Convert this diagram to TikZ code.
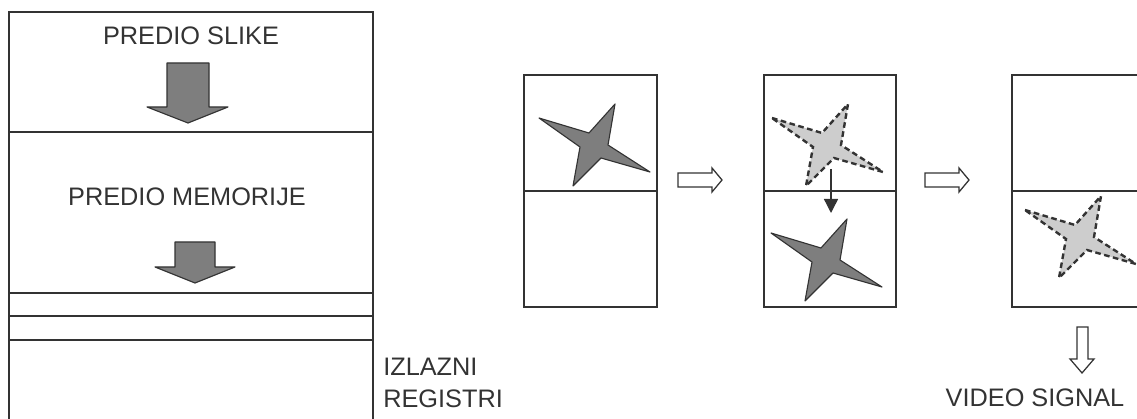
\documentclass[tikz,border=0pt]{standalone}
\usepackage{fontspec}
\setmainfont{Liberation Sans}
\usetikzlibrary{arrows.meta}

\definecolor{linegray}{HTML}{333333}
\definecolor{darkfill}{HTML}{7E7E7E}
\definecolor{lightfill}{HTML}{CDCDCD}

% four-pointed star, as drawn in the first frame
\newcommand{\starpath}{(539,118) -- (589,133) -- (615,104) -- (608,145) -- (650,172) -- (601,158) -- (573,186) -- (580,147) -- cycle}

\begin{document}
\begin{tikzpicture}[x=0.025cm, y=-0.025cm,
    frame/.style={draw=linegray, line width=1.4pt},
    bigarrow/.style={draw=linegray, line width=0.8pt, fill=darkfill, line join=round},
    hollow/.style={draw=linegray, line width=0.9pt, fill=white},
    fullstar/.style={draw=linegray, line width=0.8pt, fill=darkfill, line join=round},
    ghoststar/.style={draw=linegray, line width=1.7pt, fill=lightfill, dash pattern=on 4pt off 2.5pt},
    lbl/.style={text=linegray, font=\fontsize{18}{22.4}\selectfont, inner sep=0pt}]
            \clip (0,0) rectangle (1137,419);

            % Left column: image area, memory area and output registers
            \draw[frame] (9,430) -- (9,12) -- (373,12) -- (373,430);
            \draw[frame] (9,132) -- (373,132);
            \draw[frame] (9,293) -- (373,293);
            \draw[frame] (9,316) -- (373,316);
            \draw[frame] (9,340) -- (373,340);

            \node[lbl] (slike) at (191,36) {PREDIO SLIKE};
            \node[lbl] (memorija) at (187,197) {PREDIO MEMORIJE};
            \node[lbl, anchor=west, align=left] (registri) at (383,383) {IZLAZNI\\REGISTRI};

            % Transfer arrows
            \draw[bigarrow] (167,63) -- (209,63) -- (209,107) -- (228,107) -- (188,123) -- (147,107) -- (167,107) -- cycle;
            \draw[bigarrow] (175,242) -- (215,242) -- (215,267) -- (235,267) -- (195,283) -- (155,267) -- (175,267) -- cycle;

            % Frame 1
            \draw[frame] (524,75) rectangle (657,307);
            \draw[frame] (524,191) -- (657,191);
            \draw[fullstar] \starpath;

            % Frame 2
            \draw[frame] (764,75) rectangle (896,307);
            \draw[frame] (764,191) -- (896,191);
            \begin{scope}[shift={(233,0)}]
                \draw[ghoststar] \starpath;
            \end{scope}
            \begin{scope}[shift={(232,115)}]
                \draw[fullstar] \starpath;
            \end{scope}
            \draw[linegray, line width=1pt, -{Triangle[width=10pt,length=10pt]}] (831,169) -- (831,213);

            % Frame 3
            \draw[frame] (1145,75) -- (1012,75) -- (1012,307) -- (1145,307);
            \draw[frame] (1012,191) -- (1145,191);
            \begin{scope}[shift={(486,92)}]
                \draw[ghoststar] \starpath;
            \end{scope}

            % Hollow arrows between frames
            \draw[hollow] (678,173) -- (712,173) -- (712,168) -- (722,180) -- (712,192) -- (712,187) -- (678,187) -- cycle;
            \draw[hollow] (925,173) -- (959,173) -- (959,168) -- (969,180) -- (959,192) -- (959,187) -- (925,187) -- cycle;

            % Output
            \draw[hollow] (1077,327) -- (1088,327) -- (1088,359) -- (1094,359) -- (1082,373) -- (1070,359) -- (1077,359) -- cycle;
            \node[lbl] (video) at (1035,398) {VIDEO SIGNAL};

\end{tikzpicture}
\end{document}
